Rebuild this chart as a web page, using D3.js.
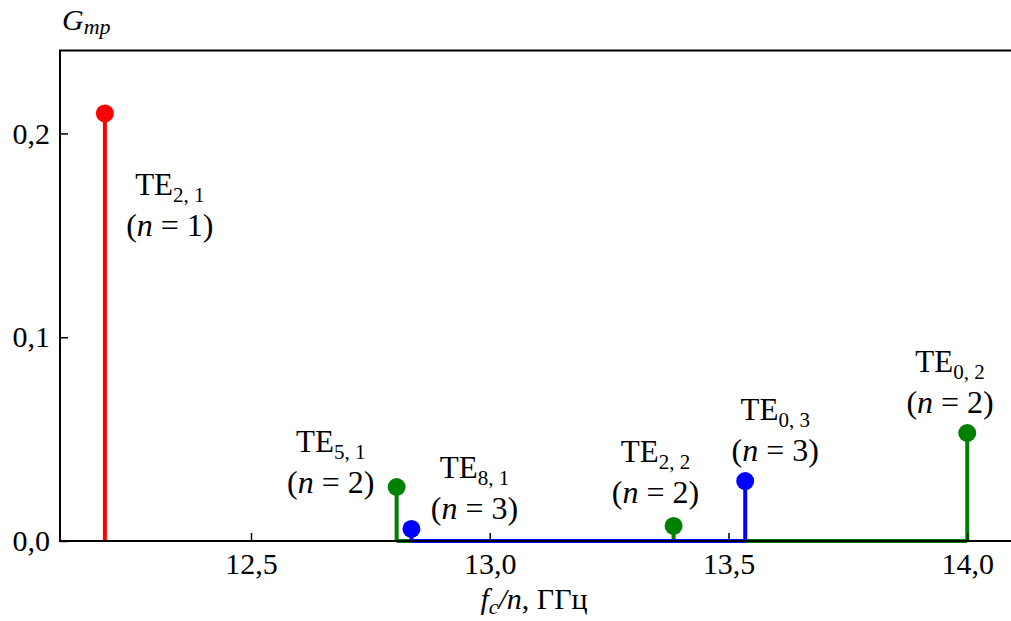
<!DOCTYPE html>
<html>
<head>
<meta charset="utf-8">
<script src="https://cdn.jsdelivr.net/npm/d3@7"></script>
<style>
    body { margin: 0; background: #fff; }
    text { font-family: "Liberation Serif", "Times New Roman", serif; fill: #000; }
</style>
</head>
<body>
<div id="chart"></div>
<script>

// mode data
const modeIdx = ["2, 1", "5, 1", "8, 1", "2, 2", "0, 3", "0, 2"];
const harmonic = [1, 2, 3, 2, 3, 2];
const freq = [12.194, 12.805, 12.836, 13.385, 13.535, 14.0];
const gain = [0.2098, 0.0265, 0.0059, 0.0074, 0.0294, 0.053];

// annotation anchors, data units (centre x, first-line baseline y)
const labelX = [12.33, 12.667, 12.968, 13.347, 13.598, 13.964];
const labelY = [0.1696, 0.0436, 0.0309, 0.0387, 0.0593, 0.0828];

const xTicks = [12.5, 13.0, 13.5, 14.0];
const xTickLabels = ["12,5", "13,0", "13,5", "14,0"];
const yTicks = [0, 0.1, 0.2];
const yTickLabels = ["0,0", "0,1", "0,2"];

const seriesN = [1, 2, 3];
const seriesColor = ["#ff0000", "#008000", "#0000ff"];

let w = 1011;
let h = 621;
let padL = 60, padR = 1015, padT = 50.5, padB = 541;

let x = d3.scaleLinear().domain([12.1, 14.1]).range([padL, padR]);
let y = d3.scaleLinear().domain([0, 0.2407]).range([padB, padT]);

let svg = d3.select("#chart")
    .append("svg")
    .attr("width", w)
    .attr("height", h);

let points = freq.map(function (f, i) {
    return {f: f, g: gain[i], n: harmonic[i], idx: modeIdx[i], lx: labelX[i], ly: labelY[i]};
});

// stems, baselines, markers per series (red, green, blue)
seriesN.forEach(function (n, si) {
    let pts = points.filter(function (d) { return d.n === n; });
    let col = seriesColor[si];
    let g = svg.append("g");

    g.selectAll("line.stem")
        .data(pts)
        .enter()
        .append("line")
        .attr("x1", function (d) { return x(d.f); })
        .attr("x2", function (d) { return x(d.f); })
        .attr("y1", y(0))
        .attr("y2", function (d) { return y(d.g); })
        .attr("stroke", col)
        .attr("stroke-width", 4);

    let ext = d3.extent(pts, function (d) { return d.f; });
    g.append("line")
        .attr("x1", x(ext[0]))
        .attr("x2", x(ext[1]))
        .attr("y1", y(0))
        .attr("y2", y(0))
        .attr("stroke", col)
        .attr("stroke-width", 4);

    g.selectAll("circle")
        .data(pts)
        .enter()
        .append("circle")
        .attr("cx", function (d) { return x(d.f); })
        .attr("cy", function (d) { return y(d.g); })
        .attr("r", 9)
        .attr("fill", col);
});

// spines (right one falls off the picture)
svg.append("path")
    .attr("d", "M" + padR + "," + padT + "H" + padL + "V" + padB + "H" + padR)
    .attr("fill", "none")
    .attr("stroke", "#000")
    .attr("stroke-width", 2);

// axes with inward ticks
let xAxis = svg.append("g")
    .attr("transform", "translate(0," + padB + ")")
    .call(d3.axisBottom(x)
        .tickValues(xTicks)
        .tickFormat(function (d, i) { return xTickLabels[i]; })
        .tickSize(-8)
        .tickPadding(12));
xAxis.select(".domain").remove();
xAxis.selectAll("line").attr("stroke", "#000").attr("stroke-width", 1.5);
xAxis.selectAll("text")
    .attr("font-size", 30)
    .attr("font-family", "Liberation Serif")
    .attr("fill", "#000");

let yAxis = svg.append("g")
    .attr("transform", "translate(" + padL + ",0)")
    .call(d3.axisLeft(y)
        .tickValues(yTicks)
        .tickFormat(function (d, i) { return yTickLabels[i]; })
        .tickSize(-8)
        .tickPadding(10));
yAxis.select(".domain").remove();
yAxis.selectAll("line").attr("stroke", "#000").attr("stroke-width", 1.5);
yAxis.selectAll("text")
    .attr("font-size", 30)
    .attr("font-family", "Liberation Serif")
    .attr("fill", "#000");

// mode annotations
let ann = svg.selectAll("g.ann")
    .data(points)
    .enter()
    .append("g")
    .attr("class", "ann");

let l1 = ann.append("text")
    .attr("x", function (d) { return x(d.lx); })
    .attr("y", function (d) { return y(d.ly); })
    .attr("text-anchor", "middle")
    .attr("font-size", 31);
l1.append("tspan").text("TE");
l1.append("tspan")
    .attr("font-size", 21)
    .attr("dy", 7)
    .text(function (d) { return d.idx; });

let l2 = ann.append("text")
    .attr("x", function (d) { return x(d.lx); })
    .attr("y", function (d) { return y(d.ly) + 41; })
    .attr("text-anchor", "middle")
    .attr("font-size", 32);
l2.append("tspan").text("(");
l2.append("tspan").attr("font-style", "italic").text("n");
l2.append("tspan").text(function (d) { return " = " + d.n + ")"; });

// axis titles
let yl = svg.append("text")
    .attr("x", 62)
    .attr("y", 30)
    .attr("font-size", 30);
yl.append("tspan").attr("font-style", "italic").text("G");
yl.append("tspan").attr("font-style", "italic").attr("font-size", 22).attr("dy", 4).text("mp");

let xl = svg.append("text")
    .attr("x", 534)
    .attr("y", 609)
    .attr("text-anchor", "middle")
    .attr("font-size", 30);
xl.append("tspan").attr("font-style", "italic").text("f");
xl.append("tspan").attr("font-style", "italic").attr("font-size", 22).attr("dy", 5).text("c");
xl.append("tspan").attr("font-style", "italic").attr("dy", -5).text("/n");
xl.append("tspan").text(", ГГц");

</script>
</body>
</html>
